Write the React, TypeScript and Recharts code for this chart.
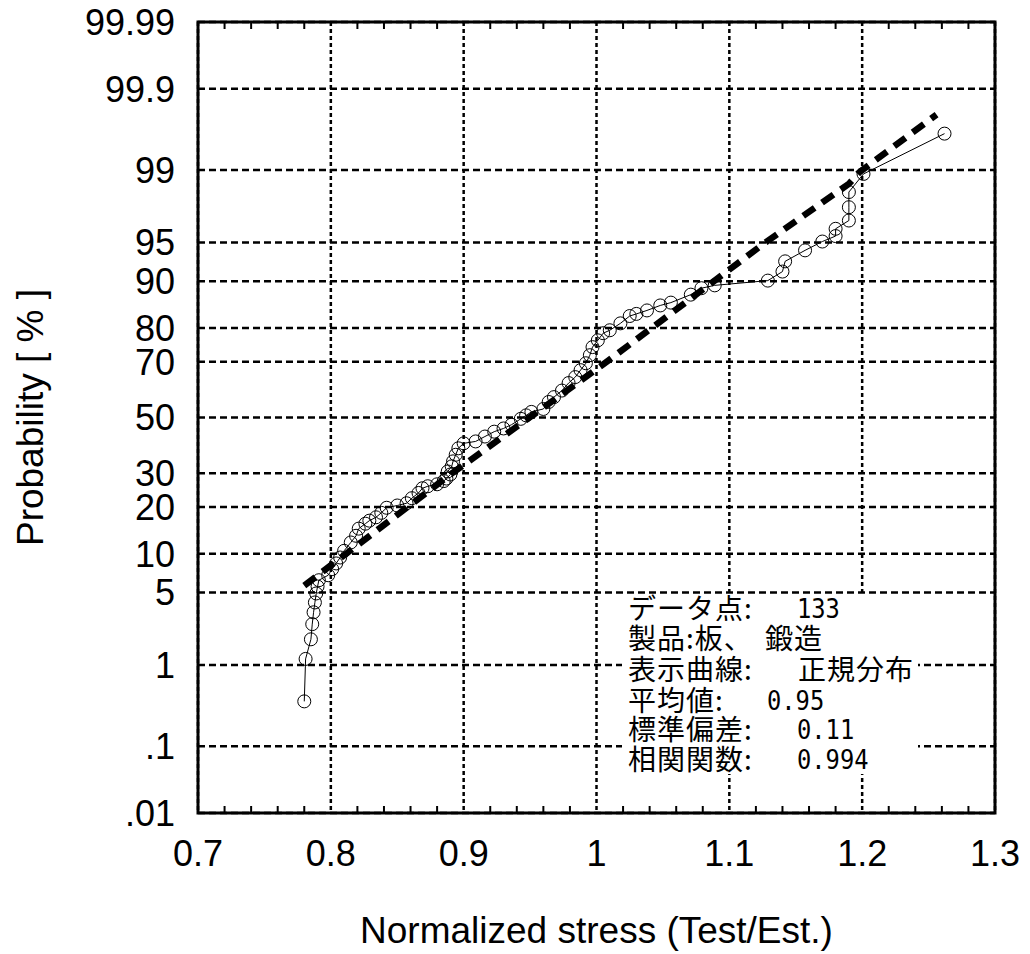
import {
  CartesianGrid,
  Label,
  ReferenceArea,
  ReferenceLine,
  Scatter,
  ScatterChart,
  XAxis,
  YAxis,
} from "recharts";

// measured points (normalized stress vs cumulative probability %)
const stress = [
  0.780, 0.781, 0.785, 0.786, 0.787, 0.788, 0.789, 0.790, 0.791, 0.798,
  0.801, 0.804, 0.807, 0.810, 0.815, 0.819, 0.821, 0.826, 0.829, 0.834,
  0.838, 0.842, 0.850, 0.857, 0.861, 0.866, 0.869, 0.873, 0.880, 0.885,
  0.887, 0.890, 0.888, 0.891, 0.892, 0.894, 0.896, 0.900, 0.909, 0.916,
  0.923, 0.930, 0.936, 0.943, 0.947, 0.951, 0.960, 0.964, 0.968, 0.974,
  0.979, 0.984, 0.988, 0.992, 0.995, 0.997, 1.001, 1.005, 1.010, 1.018,
  1.025, 1.030, 1.038, 1.048, 1.056, 1.071, 1.079, 1.089, 1.129, 1.140,
  1.142, 1.157, 1.170, 1.180, 1.180, 1.190, 1.190, 1.190, 1.201, 1.262,
];
const probPct = [
  0.38, 1.16, 1.85, 2.6, 3.35, 4.1, 4.9, 5.6, 6.3, 6.9,
  7.7, 8.5, 9.4, 10.5, 12.0, 13.3, 14.8, 15.9, 16.6, 17.4,
  18.5, 19.8, 20.4, 21.0, 22.4, 23.9, 25.3, 25.9, 26.5, 27.5,
  28.3, 29.6, 30.6, 32.3, 34.0, 36.3, 38.6, 40.4, 41.1, 42.9,
  44.7, 45.9, 47.3, 49.5, 50.8, 52.1, 53.2, 55.8, 57.6, 60.0,
  62.7, 64.8, 67.2, 69.5, 72.1, 74.6, 76.6, 78.6, 79.4, 81.2,
  83.0, 83.5, 84.3, 85.4, 86.0, 87.6, 88.8, 89.3, 90.1, 91.5,
  92.9, 94.2, 95.1, 95.6, 96.2, 96.8, 97.6, 98.3, 98.9, 99.62,
];

// fitted normal curve (dashed)
const fitStress = [0.780, 0.890, 1.005, 1.126, 1.190, 1.198, 1.256];
const fitPct = [5.7, 29.6, 69.1, 94.9, 98.6, 98.95, 99.78];

const xTicks = [0.7, 0.8, 0.9, 1.0, 1.1, 1.2, 1.3];
const xMinorTicks = [
  0.72, 0.74, 0.76, 0.78, 0.82, 0.84, 0.86, 0.88,
  0.92, 0.94, 0.96, 0.98, 1.02, 1.04, 1.06, 1.08,
  1.12, 1.14, 1.16, 1.18, 1.22, 1.24, 1.26, 1.28,
];
const yTickPct = [0.01, 0.1, 1, 5, 10, 20, 30, 50, 70, 80, 90, 95, 99, 99.9, 99.99];
const yTickLabels = [".01", ".1", "1", "5", "10", "20", "30", "50", "70", "80", "90", "95", "99", "99.9", "99.99"];

const infoLabels = ["データ点:", "製品:板、", "表示曲線:", "平均値:", "標準偏差:", "相関関数:"];
const infoValues = ["133", "鍛造", "正規分布", "0.95", "0.11", "0.994"];

// inverse of the standard normal cdf (Acklam)
function probit(p: number) {
  const a = [-39.69683028665376, 220.9460984245205, -275.9285104469687, 138.357751867269, -30.66479806614716, 2.506628277459239];
  const b = [-54.47609879822406, 161.5858368580409, -155.6989798598866, 66.80131188771972, -13.28068155288572];
  const c = [-0.007784894002430293, -0.3223964580411365, -2.400758277161838, -2.549732539343734, 4.374664141464968, 2.938163982698783];
  const d = [0.007784695709041462, 0.3224671290700398, 2.445134137142996, 3.754408661907416];
  const lo = 0.02425;
  if (p < lo) {
    const q = Math.sqrt(-2 * Math.log(p));
    return (((((c[0] * q + c[1]) * q + c[2]) * q + c[3]) * q + c[4]) * q + c[5]) /
      ((((d[0] * q + d[1]) * q + d[2]) * q + d[3]) * q + 1);
  }
  if (p > 1 - lo) {
    const q = Math.sqrt(-2 * Math.log(1 - p));
    return -(((((c[0] * q + c[1]) * q + c[2]) * q + c[3]) * q + c[4]) * q + c[5]) /
      ((((d[0] * q + d[1]) * q + d[2]) * q + d[3]) * q + 1);
  }
  const q = p - 0.5;
  const r = q * q;
  return (((((a[0] * r + a[1]) * r + a[2]) * r + a[3]) * r + a[4]) * r + a[5]) * q /
    (((((b[0] * r + b[1]) * r + b[2]) * r + b[3]) * r + b[4]) * r + 1);
}

const measured = stress.map((x, i) => ({ x, z: probit(probPct[i] / 100) }));
const fitted = fitStress.map((x, i) => ({ x, z: probit(fitPct[i] / 100) }));
const yTicks = yTickPct.map((p) => probit(p / 100));
const yMin = yTicks[0];
const yMax = yTicks[yTicks.length - 1];
// minor tick length, in z units (about 7px)
const tickLen = 0.066;

const FONT = '"Liberation Sans", Arial, Helvetica, sans-serif';
const CJK = '"Noto Sans CJK JP", "Noto Sans CJK SC", sans-serif';
const MONO = '"DejaVu Sans Mono", "Liberation Mono", monospace';

const yLabel = (v: number) => {
  let best = 0;
  yTicks.forEach((t, i) => {
    if (Math.abs(t - v) < Math.abs(yTicks[best] - v)) best = i;
  });
  return yTickLabels[best];
};

const Circle = (props: any) => (
  <circle cx={props.cx} cy={props.cy} r={6.5} fill="none" stroke="#000" strokeWidth={1} />
);

const Nothing = () => <g />;

export default function App() {
  const rowTop = [594, 624, 655, 686, 715, 745];
  const valueX = [797, 765, 798, 767, 797, 797];
  const valueMono = [true, false, false, true, true, true];

  return (
    <div style={{ position: "absolute", left: 0, top: 0, width: 1030, height: 954, background: "#fff" }}>
      <ScatterChart width={1030} height={954} margin={{ top: 22, right: 35, bottom: 0, left: 0 }}>
        <CartesianGrid horizontal vertical={false} stroke="#000" strokeWidth={2.5} strokeDasharray="7 4" />
        <CartesianGrid horizontal={false} vertical stroke="#000" strokeWidth={2.5} strokeDasharray="4 3" />
        <XAxis
          type="number"
          dataKey="x"
          domain={[0.7, 1.3]}
          ticks={xTicks}
          interval={0}
          axisLine={false}
          tickLine={false}
          tickSize={0}
          tickMargin={27}
          height={141}
          tick={{ fill: "#000", fontSize: 36, fontFamily: FONT }}
        >
          <Label
            value="Normalized stress (Test/Est.)"
            position="insideBottom"
            offset={11}
            fill="#000"
            style={{ fontSize: 37, fontFamily: FONT }}
          />
        </XAxis>
        <YAxis
          type="number"
          dataKey="z"
          domain={[yMin, yMax]}
          ticks={yTicks}
          interval={0}
          axisLine={false}
          tickLine={false}
          tickSize={0}
          tickMargin={23}
          width={198}
          tickFormatter={yLabel}
          tick={{ fill: "#000", fontSize: 36, fontFamily: FONT }}
        >
          <Label
            value="Probability [ % ]"
            angle={-90}
            position="insideLeft"
            offset={30}
            fill="#000"
            style={{ fontSize: 37, fontFamily: FONT, textAnchor: "middle" }}
          />
        </YAxis>
        {xMinorTicks.map((t) => (
          <ReferenceLine
            key={`b${t}`}
            segment={[{ x: t, y: yMin }, { x: t, y: yMin + tickLen }]}
            stroke="#000"
            strokeWidth={2}
            ifOverflow="visible"
          />
        ))}
        {xMinorTicks.map((t) => (
          <ReferenceLine
            key={`t${t}`}
            segment={[{ x: t, y: yMax }, { x: t, y: yMax - tickLen }]}
            stroke="#000"
            strokeWidth={2}
            ifOverflow="visible"
          />
        ))}
        <ReferenceArea
          x1={0.7}
          x2={1.3}
          y1={yMin}
          y2={yMax}
          fill="none"
          fillOpacity={0}
          stroke="#000"
          strokeWidth={3}
          ifOverflow="visible"
        />
        <Scatter
          data={fitted}
          isAnimationActive={false}
          shape={Nothing}
          line={{ stroke: "#000", strokeWidth: 6.5, strokeDasharray: "14 9" }}
        />
        <Scatter
          data={measured}
          isAnimationActive={false}
          shape={Circle}
          line={{ stroke: "#000", strokeWidth: 1 }}
        />
      </ScatterChart>

      <div
        style={{
          position: "absolute",
          left: 622,
          top: 596,
          width: 296,
          height: 178,
          background: "#fff",
        }}
      />
      {infoLabels.map((lab, i) => (
        <div key={lab}>
          <span
            style={{
              position: "absolute",
              left: 628,
              top: rowTop[i],
              height: 26,
              fontFamily: CJK,
              fontSize: 28,
              lineHeight: "26px",
              letterSpacing: 1,
              color: "#000",
              whiteSpace: "nowrap",
            }}
          >
            {lab}
          </span>
          <span
            style={{
              position: "absolute",
              left: valueX[i],
              top: rowTop[i] + (valueMono[i] ? 2 : 0),
              height: 26,
              fontFamily: valueMono[i] ? MONO : CJK,
              fontSize: valueMono[i] ? 27 : 28,
              lineHeight: "26px",
              letterSpacing: valueMono[i] ? 0 : 1,
              color: "#000",
              whiteSpace: "nowrap",
              transform: valueMono[i] ? "scaleX(0.88)" : "none",
              transformOrigin: "left center",
            }}
          >
            {infoValues[i]}
          </span>
        </div>
      ))}
    </div>
  );
}
